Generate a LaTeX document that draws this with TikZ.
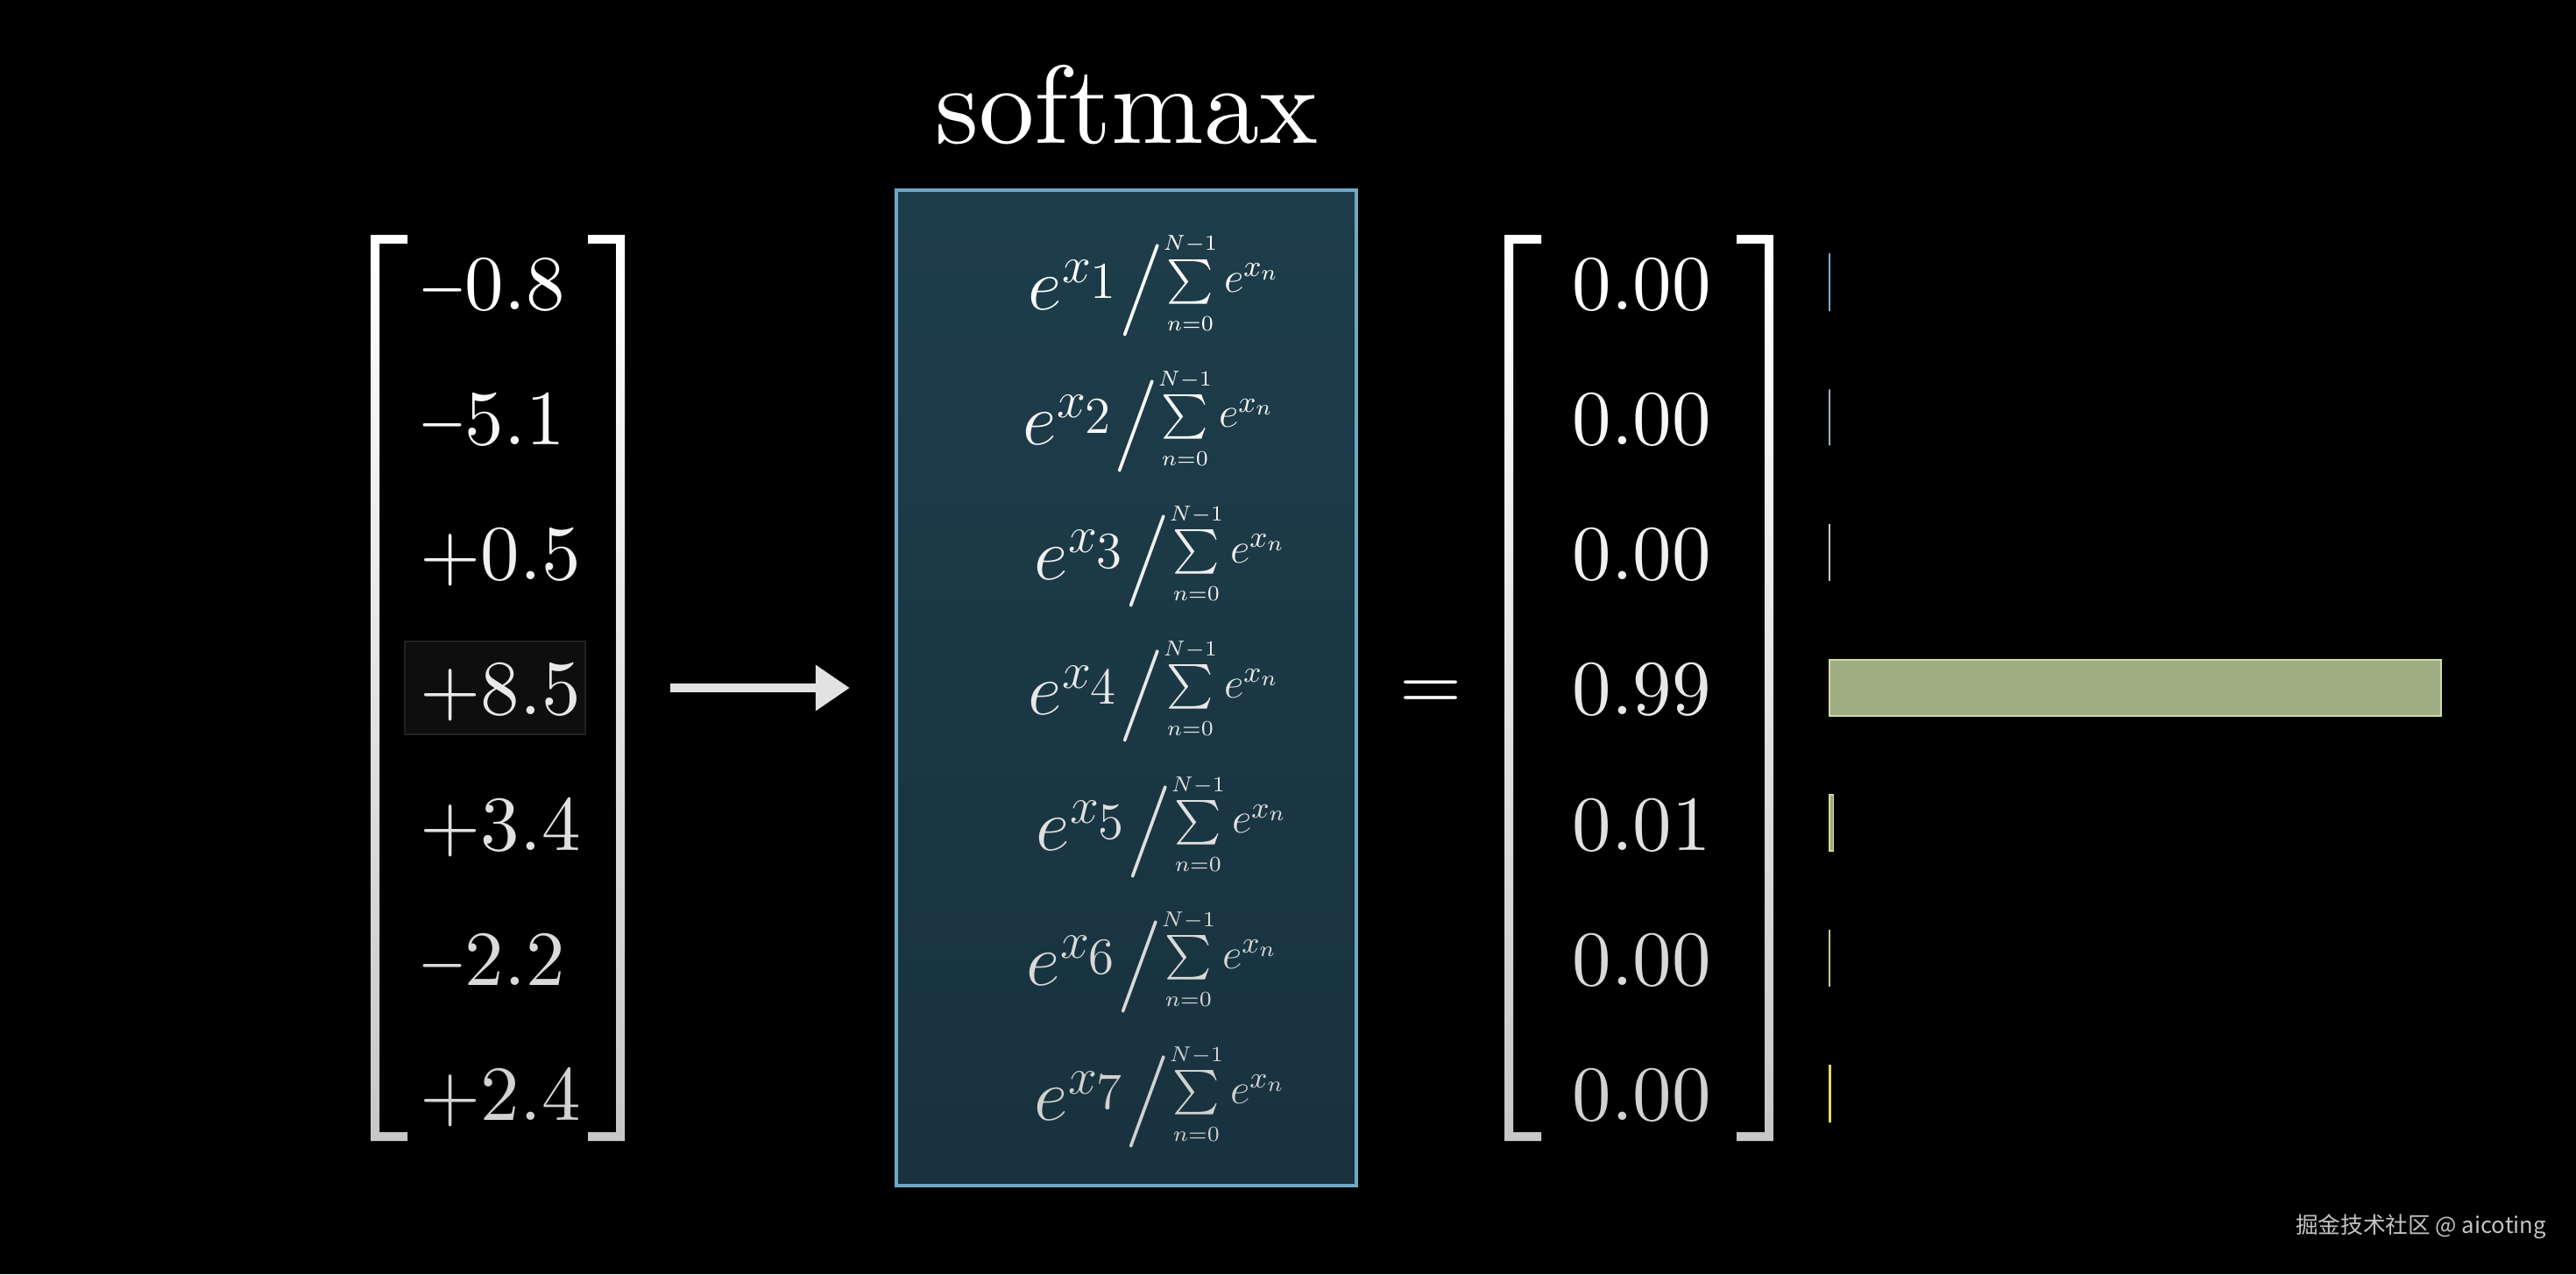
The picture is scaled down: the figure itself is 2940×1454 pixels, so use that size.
\RequirePackage{fix-cm}
\documentclass[tikz,border=0pt]{standalone}
\usepackage{fontspec}
\usepackage{amsmath}
\usepackage{exscale}
\usepackage{graphicx}
\usetikzlibrary{arrows.meta}
\newfontfamily\cjk{Noto Sans CJK SC}
\newfontfamily\cmten{lmroman10-regular.otf}
\definecolor{boxtop}{RGB}{30,61,75}
\definecolor{boxbot}{RGB}{24,50,62}
\definecolor{boxline}{RGB}{112,168,196}
\definecolor{hlfill}{RGB}{14,14,14}
\definecolor{hlline}{RGB}{34,34,34}
\definecolor{arrowgray}{RGB}{226,226,226}
\definecolor{wmgray}{RGB}{196,196,196}
\definecolor{bara}{RGB}{125,168,200}
\definecolor{barb}{RGB}{150,180,195}
\definecolor{barc}{RGB}{196,200,200}
\definecolor{bard}{RGB}{205,220,165}
\definecolor{bare}{RGB}{205,220,150}
\definecolor{barf}{RGB}{195,205,150}
\definecolor{barg}{RGB}{225,215,105}
\newcommand{\minusglyph}{\scalebox{0.74}[1]{−}}

\begin{document}
\begin{tikzpicture}[x=0.01cm, y=-0.01cm,
  bignum/.style={anchor=base west, inner sep=0pt, font=\cmten\fontsize{25.3}{30}\selectfont},
  fracrow/.style={anchor=base west, inner sep=0pt},
  bar/.style={line width=0.015cm}]
% --- background and page size ---
\fill[black] (0,0) rectangle (2940,1454);
\useasboundingbox (0,0) rectangle (2940,1454);
% --- title ---
\node (title) [anchor=base, inner sep=0pt, text=white, font=\cmten\fontsize{36}{43}\selectfont] at (1286,163) {softmax};
% --- brackets (outer edge / direction) ---
\foreach \xo/\d in {423/1, 713/-1, 1717/1, 2024/-1}
  \shade[top color=white, bottom color=white!78!black]
    (\xo,268) -- (\xo+\d*42,268) -- (\xo+\d*42,278) -- (\xo+\d*10,278) --
    (\xo+\d*10,1292) -- (\xo+\d*42,1292) -- (\xo+\d*42,1302) -- (\xo,1302) -- cycle;
% highlight behind the largest input
\draw[draw=hlline, fill=hlfill, line width=0.02cm] (462,732) rectangle (668,838);
% --- input column ---
\foreach \i/\v [evaluate=\i as \lv using int(100-(\i-1)*3)] in {1/{\minusglyph0.8}, 2/{\minusglyph5.1}, 3/{+0.5}, 4/{+8.5},
                   5/{+3.4}, 6/{\minusglyph2.2}, 7/{+2.4}}
  \node (x\i) [bignum, text=white!\lv!black] at (479,{353+(\i-1)*154.3}) {\v};
% --- softmax box ---
\node (box) [draw=boxline, line width=0.04cm, top color=boxtop, bottom color=boxbot,
  minimum width=5.25cm, minimum height=11.36cm, inner sep=0pt] at (1285.5,785) {};
\foreach \i/\xs [evaluate=\i as \lv using int(100-(\i-1)*3)] in {1/1173, 2/1167, 3/1180, 4/1173, 5/1182, 6/1171, 7/1180}
  \node (f\i) [fracrow, text=white!\lv!black] at (\xs,{353+(\i-1)*154.3})
    {{\fontsize{24}{29}\selectfont$e^{x_{\scriptstyle\i}}\big/$}%
     \raisebox{5.5pt}{\fontsize{14}{17}\selectfont$\sum\limits_{\scriptscriptstyle n=0}^{\scriptscriptstyle N-1}e^{x_n}$}};
% --- arrow into the box ---
\coordinate (tail) at (765,785);
\draw[line width=0.1cm, arrowgray, -{Triangle[length=0.39cm, width=0.5cm]}, shorten >=0.51cm] (tail) -- (box.west);
% --- equals sign ---
\node (eq) [anchor=base, inner sep=0pt, text=white, font=\cmten\fontsize{26}{31}\selectfont] at (1633,810) {=};
% --- output column ---
\foreach \i/\v [evaluate=\i as \lv using int(100-(\i-1)*3)] in {1/0.00, 2/0.00, 3/0.00, 4/0.99, 5/0.01, 6/0.00, 7/0.00}
  \node (p\i) [bignum, text=white!\lv!black] at (1794,{353+(\i-1)*154.3}) {\v};
% --- probability bars (width = p * 704) ---
\foreach \i/\p/\c in {1/0.0000906/bara, 2/0.0000012/barb, 3/0.000333/barc, 4/0.99129/bard,
                      5/0.00604/bare, 6/0.0000224/barf, 7/0.00222/barg}
  \draw[bar, draw=\c, fill=\c!78!black] (2088,{322+(\i-1)*154.3-32}) rectangle ({2088+\p*704},{322+(\i-1)*154.3+32});
% --- watermark ---
\node (wm) [text=wmgray, font=\cjk\fontsize{7.3}{9}\selectfont] at (2763,1400) {掘金技术社区 @ aicoting};
\end{tikzpicture}
\end{document}
